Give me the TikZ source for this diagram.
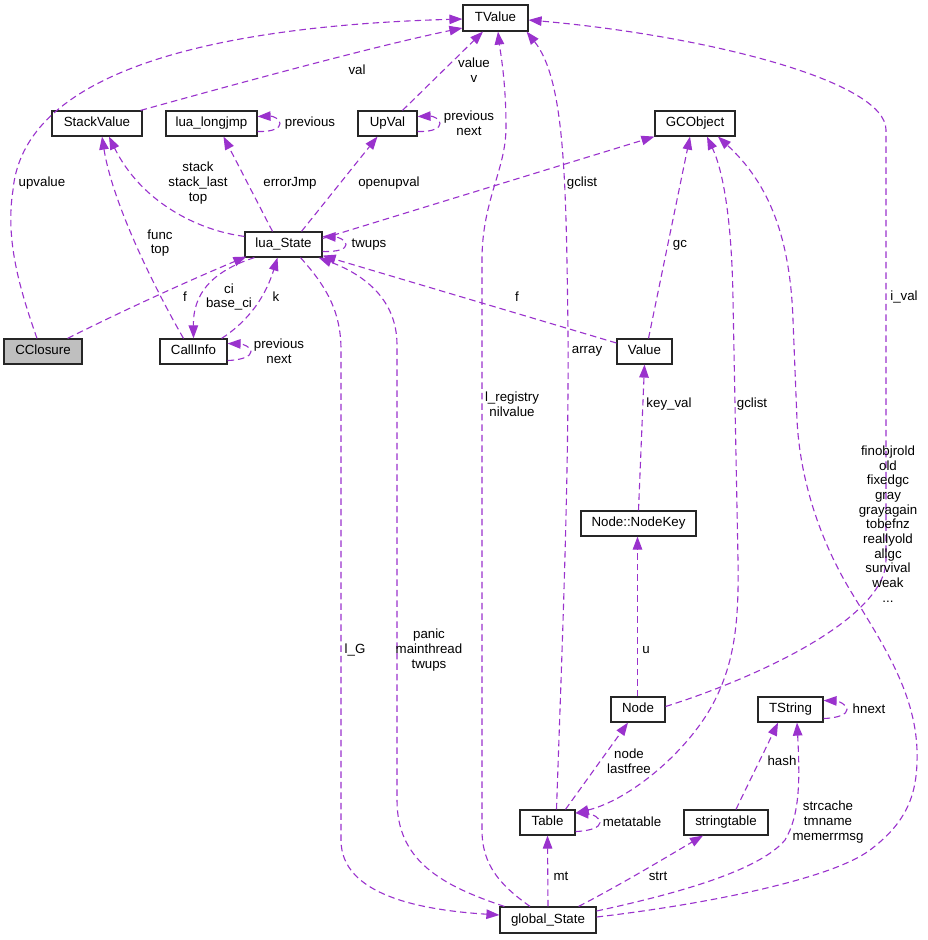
\documentclass[tikz,border=0pt]{standalone}
\usepackage{fontspec}
\setmainfont{Liberation Sans}
\usetikzlibrary{arrows.meta}
\definecolor{edgec}{HTML}{9A32CD}
\definecolor{boxgray}{HTML}{BFBFBF}
\begin{document}
\begin{tikzpicture}[x=1pt,y=-1pt,
  font=\fontsize{13.3pt}{14.7pt}\selectfont,
  box/.style={draw=black!85, line width=1.2pt, fill=white, inner sep=0pt,
    minimum height=25pt, text height=9.5pt, text depth=2.7pt},
  lbl/.style={inner sep=0pt, align=center},
  conn/.style={draw=edgec, line width=1.1pt, dash pattern=on 6.5pt off 4pt,
    -{Triangle[length=13pt,width=9.5pt]}},
  conntwo/.style={draw=edgec, line width=1.1pt, dash pattern=on 6.5pt off 4pt,
    {Triangle[length=13pt,width=9.5pt]}-{Triangle[length=13pt,width=9.5pt]}}]
\fill[white] (0,0) rectangle (927,940);
\useasboundingbox (0,0) rectangle (927,940);

% nodes
\node[box, minimum width=65pt, minimum height=26pt] (TValue) at (495.5,18) {TValue};
\node[box, minimum width=90pt] (StackValue) at (97,123.5) {StackValue};
\node[box, minimum width=91pt] (longjmp) at (211.5,123.5) {lua\_longjmp};
\node[box, minimum width=59pt] (UpVal) at (387.5,123.5) {UpVal};
\node[box, minimum width=80pt] (GCObject) at (695,123.5) {GCObject};
\node[box, minimum width=77pt] (lua) at (283.5,244.5) {lua\_State};
\node[box, minimum width=78pt, fill=boxgray] (CClosure) at (43,351.5) {CClosure};
\node[box, minimum width=67pt] (CallInfo) at (193.5,351.5) {CallInfo};
\node[box, minimum width=55pt] (Value) at (644.5,351.5) {Value};
\node[box, minimum width=115pt] (NodeKey) at (638.5,523.5) {Node::NodeKey};
\node[box, minimum width=54pt] (Node) at (638,709.5) {Node};
\node[box, minimum width=65pt] (TString) at (790.5,709.5) {TString};
\node[box, minimum width=55pt] (Table) at (547.5,822.5) {Table};
\node[box, minimum width=84pt] (stringtable) at (726,822.5) {stringtable};
\node[box, minimum width=96pt, minimum height=26pt] (gState) at (548,920) {global\_State};

% edges
\draw[conn] ([xshift=-6pt]CClosure.north) .. controls (20,290) and (5,240) .. (13,190) .. controls (25,60) and (250,25) .. ([yshift=-1pt]TValue.west);
\draw[conn] ([xshift=-2pt]StackValue.north east) .. controls (250,80) and (380,45) .. ([yshift=-10pt]TValue.west);
\draw[conn] ([xshift=15pt]UpVal.north) -- ([xshift=-12.5pt]TValue.south);
\draw[conn] ([xshift=-18pt]gState.north) .. controls (500,885) and (482,865) .. (482,830) -- (482,260) .. controls (482,200) and (506,170) .. (506,127) .. controls (506,80) and (500,50) .. ([xshift=2.5pt]TValue.south);
\draw[conn] ([xshift=9pt]Table.north) .. controls (562,650) and (569,480) .. (568,330) .. controls (566,180) and (565,80) .. ([xshift=-2pt]TValue.south east);
\draw[conn] ([yshift=3pt]Node.east) .. controls (750,680) and (886,620) .. (886,560) -- (886,130) .. controls (886,80) and (700,35) .. ([yshift=-2pt]TValue.east);
\draw[conn] ([yshift=-5pt]lua.north west) .. controls (195,230) and (140,200) .. ([xshift=12pt]StackValue.south);
\draw[conn] ([xshift=-10pt]CallInfo.north) .. controls (150,280) and (112,200) .. ([xshift=5pt]StackValue.south);
\draw[conn] ([xshift=-11pt]lua.north) -- ([xshift=12pt]longjmp.south);
\draw[conn] ([yshift=-8pt]longjmp.east) .. controls (273,132) and (280,128) .. (280,123.5) .. controls (280,119) and (273,116) .. ([yshift=7pt]longjmp.east);
\draw[conn] ([xshift=18pt]lua.north) -- ([xshift=-10pt]UpVal.south);
\draw[conn] ([yshift=-8pt]UpVal.east) .. controls (433,132) and (440,128) .. (440,123.5) .. controls (440,119) and (433,116) .. ([yshift=7pt]UpVal.east);
\draw[conn] ([yshift=6pt]lua.east) -- (GCObject.south west);
\draw[conn] ([xshift=4pt]Value.north) -- ([xshift=-5pt]GCObject.south);
\draw[conntwo] ([yshift=9.5pt]Table.east) .. controls (630,800) and (690,750) .. (715,700) .. controls (735,660) and (739,620) .. (738,560) -- (733,300) .. controls (732,230) and (725,175) .. ([xshift=12pt]GCObject.south);
\draw[conn] ([yshift=3pt]gState.east) .. controls (700,905) and (830,880) .. (870,850) .. controls (910,820) and (918,790) .. (917,750) .. controls (915,690) and (880,640) .. (850,590) .. controls (820,540) and (800,480) .. (797,420) -- (793,320) .. controls (790,230) and (765,180) .. ([xshift=23pt]GCObject.south);
\draw[conn] ([yshift=8.5pt]Value.west) -- ([yshift=2pt]lua.south east);
\draw[conn] ([yshift=-7pt]lua.east) .. controls (338,252) and (346,249) .. (346,244.5) .. controls (346,240) and (338,237) .. ([yshift=8pt]lua.east);
\draw[conn] ([xshift=-15pt]CClosure.north east) .. controls (120,312) and (190,280) .. ([xshift=2pt,yshift=1pt]lua.south west);
\draw[conn] ([xshift=-6pt]CallInfo.north east) .. controls (250,320) and (266,295) .. ([xshift=-6pt]lua.south);
\draw[conn] ([xshift=10pt]lua.south west) .. controls (210,272) and (193,295) .. (CallInfo.north);
\draw[conn] ([yshift=-9pt]CallInfo.east) .. controls (243,360) and (251,356) .. (251,351.5) .. controls (251,347) and (243,344) .. ([yshift=8pt]CallInfo.east);
\draw[conn] ([xshift=17pt]lua.south) .. controls (325,285) and (341,310) .. (341,350) -- (341,840) .. controls (341,895) and (420,910) .. ([yshift=5pt]gState.west);
\draw[conn] ([xshift=5pt]gState.north west) .. controls (440,885) and (397,860) .. (397,800) -- (397,345) .. controls (397,300) and (365,275) .. ([xshift=-4pt]lua.south east);
\draw[conn] (gState.north) -- (Table.south);
\draw[conn] ([yshift=-9pt]Table.east) .. controls (591,831) and (600,827) .. (600,822.5) .. controls (600,818) and (593,814) .. ([yshift=9.5pt]Table.east);
\draw[conn] ([xshift=18pt]Table.north) -- ([xshift=-10pt]Node.south);
\draw[conn] ([xshift=-0.5pt]Node.north) -- ([xshift=-1pt]NodeKey.south);
\draw[conn] (NodeKey.north) -- (Value.south);
\draw[conn] ([xshift=-18pt]gState.north east) .. controls (620,885) and (665,858) .. ([xshift=-23pt]stringtable.south);
\draw[conn] ([xshift=10pt]stringtable.north) .. controls (750,780) and (765,750) .. ([xshift=-12.5pt]TString.south);
\draw[conn] ([yshift=9pt]gState.east) .. controls (680,893) and (760,870) .. (785,840) .. controls (800,815) and (800,780) .. ([xshift=6.5pt]TString.south);
\draw[conn] ([yshift=-9pt]TString.east) .. controls (839,718) and (847,714) .. (847,709.5) .. controls (847,705) and (839,701) .. ([yshift=9pt]TString.east);

% labels
\node[lbl] (lupvalue) at (42,183) {upvalue};
\node[lbl] (lval) at (357,70) {val};
\node[lbl] (lvalue) at (474,70) {value\\v};
\node[lbl] (lreg) at (512,404) {l\_registry\\nilvalue};
\node[lbl] (larray) at (587,351) {array};
\node[lbl] (lival) at (904,297) {i\_val};
\node[lbl] (lstack) at (198,183) {stack\\stack\_last\\top};
\node[lbl] (lfunc) at (160,243) {func\\top};
\node[lbl] (lerr) at (290,183) {errorJmp};
\node[lbl] (lprev1) at (310,123) {previous};
\node[lbl] (lopen) at (389,183) {openupval};
\node[lbl] (lprev2) at (469,123) {previous\\next};
\node[lbl] (lgclist1) at (582,183) {gclist};
\node[lbl] (lgc) at (680,245) {gc};
\node[lbl] (lgclist2) at (752,404) {gclist};
\node[lbl] (lfin) at (888,524) {finobjrold\\old\\fixedgc\\gray\\grayagain\\tobefnz\\reallyold\\allgc\\survival\\weak\\...};
\node[lbl] (lf1) at (517,297) {f};
\node[lbl] (ltwups) at (369,245) {twups};
\node[lbl] (lf2) at (185,297) {f};
\node[lbl] (lk) at (276,297) {k};
\node[lbl] (lci) at (229,297) {ci\\base\_ci};
\node[lbl] (lprev3) at (279,351) {previous\\next};
\node[lbl] (llg) at (355,650) {l\_G};
\node[lbl] (lpanic) at (429,650) {panic\\mainthread\\twups};
\node[lbl] (lmt) at (561,876) {mt};
\node[lbl] (lmeta) at (632,822) {metatable};
\node[lbl] (lnode) at (629,761) {node\\lastfree};
\node[lbl] (lu) at (646,650) {u};
\node[lbl] (lkey) at (669,404) {key\_val};
\node[lbl] (lstrt) at (658,876) {strt};
\node[lbl] (lhash) at (782,761) {hash};
\node[lbl] (lstrc) at (828,822) {strcache\\tmname\\memerrmsg};
\node[lbl] (lhnext) at (869,709) {hnext};
\end{tikzpicture}
\end{document}
